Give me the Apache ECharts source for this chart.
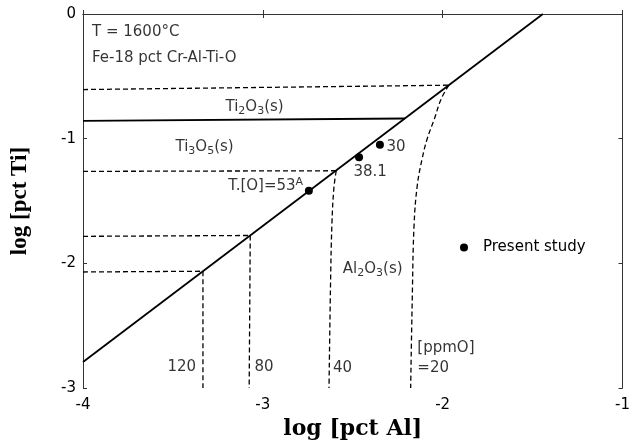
<!DOCTYPE html>
<html>
<head>
<meta charset="utf-8">
<script src="https://cdn.jsdelivr.net/npm/echarts@6/dist/echarts.min.js"></script>
<style>
  html, body { margin: 0; padding: 0; background: #fff; }
  #main { width: 633px; height: 445px; }
</style>
</head>
<body>
<div id="main"></div>
<script>
// axis ticks
var xTicks = [-4, -3, -2, -1]
var yTicks = [-3, -2, -1, 0]

// Al2O3 / Ti3O5 boundary and Ti3O5 / Ti2O3 boundary
var alBoundary = [[-4, -2.79], [-1.443, 0]]
var ti2o3Boundary = [[-4, -0.857], [-2.211, -0.838]]

// iso-oxygen lines [ppmO]
var iso20 = [[-1.966, -0.571], [-2.009, -0.683], [-2.046, -0.841], [-2.086, -1.0], [-2.114, -1.159], [-2.141, -1.371], [-2.159, -1.688], [-2.169, -2.27], [-2.178, -3]]
var iso40 = [[-2.592, -1.257], [-2.605, -1.397], [-2.616, -1.688], [-2.624, -2.2], [-2.632, -3]]
var iso80 = [[-3.07, -1.776], [-3.076, -3]]
var iso120 = [[-3.333, -2.063], [-3.333, -3]]

// horizontal guides
var guide20 = [[-4, -0.606], [-1.966, -0.571]]
var guide40 = [[-4, -1.262], [-2.592, -1.257]]
var guide80 = [[-4, -1.783], [-3.07, -1.776]]
var guide120 = [[-4, -2.069], [-3.333, -2.063]]

// present study points
var studyPoints = [[-2.744, -1.418], [-2.465, -1.148], [-2.349, -1.048]]

// annotations: x, y, text, side
var notes = [
  [-3.95, -0.143, 'T = 1600°C', 'right'],
  [-3.95, -0.357, 'Fe-18 pct Cr-Al-Ti-O', 'right'],
  [-3.046, -0.746, 'Ti{sub|2}O{sub|3}(s)', 'inside'],
  [-3.324, -1.066, 'Ti{sub|3}O{sub|5}(s)', 'inside'],
  [-2.776, -1.381, 'T.[O]=53{sup|A}', 'left'],
  [-2.312, -1.066, '30', 'right'],
  [-2.403, -1.264, '38.1', 'inside'],
  [-2.389, -2.045, 'Al{sub|2}O{sub|3}(s)', 'inside'],
  [-3.371, -2.833, '120', 'left'],
  [-3.046, -2.833, '80', 'right'],
  [-2.61, -2.839, '40', 'right'],
  [-2.141, -2.68, '[ppmO]', 'right'],
  [-2.141, -2.839, '=20', 'right']
]

var sans = 'DejaVu Sans'
var richStyle = {
  sub: { fontSize: 11, fontFamily: sans, color: '#000', lineHeight: 20, verticalAlign: 'bottom' },
  sup: { fontSize: 11, fontFamily: sans, color: '#000', lineHeight: 20, verticalAlign: 'top' }
}

function lineSeries(data, solid) {
  return {
    type: 'line',
    data: data,
    symbol: 'none',
    smooth: data.length > 2 ? 0.4 : false,
    silent: true,
    lineStyle: {
      color: '#000',
      width: solid ? 1.8 : 1.3,
      type: solid ? 'solid' : [5, 3]
    }
  }
}

function axisCommon(extra) {
  return Object.assign({
    type: 'value',
    interval: 1,
    axisLine: { show: true, lineStyle: { color: '#333', width: 1 } },
    axisTick: { show: true, inside: true, length: 4, lineStyle: { color: '#333' } },
    splitLine: { show: false }
  }, extra)
}

var chart = echarts.init(document.getElementById('main'))

var series = [
  lineSeries(alBoundary, true),
  lineSeries(ti2o3Boundary, true),
  lineSeries(iso20, false),
  lineSeries(iso40, false),
  lineSeries(iso80, false),
  lineSeries(iso120, false),
  lineSeries(guide20, false),
  lineSeries(guide40, false),
  lineSeries(guide80, false),
  lineSeries(guide120, false),
  {
    name: 'Present study',
    type: 'scatter',
    data: studyPoints,
    symbol: 'circle',
    symbolSize: 8,
    itemStyle: { color: '#000', opacity: 1 },
    z: 5
  },
  {
    type: 'scatter',
    symbolSize: 0,
    silent: true,
    data: notes.map(function (n) {
      return {
        value: [n[0], n[1]],
        label: {
          show: true,
          position: n[3],
          distance: 0,
          formatter: n[2],
          color: '#000',
          fontSize: 15,
          fontFamily: sans,
          lineHeight: 20,
          rich: richStyle
        }
      }
    })
  }
]

chart.setOption({
  animation: false,
  backgroundColor: '#fff',
  grid: { left: 83, right: 6, top: 14, bottom: 53 },
  legend: {
    data: [{ name: 'Present study', icon: 'circle', itemStyle: { opacity: 1, color: '#000' } }],
    left: 460,
    top: 240,
    padding: 0,
    itemWidth: 8,
    itemHeight: 8,
    textStyle: { color: '#000', fontSize: 15, fontFamily: sans, padding: [0, 0, 0, 10] }
  },
  xAxis: [
    axisCommon({
      min: xTicks[0], max: xTicks[xTicks.length - 1],
      name: 'log [pct Al]',
      nameLocation: 'middle',
      nameGap: 28,
      nameTextStyle: { fontFamily: 'DejaVu Serif', fontWeight: 'bold', fontSize: 22, color: '#000' },
      axisLabel: { color: '#000', fontSize: 15, fontFamily: sans, margin: 10 }
    }),
    axisCommon({
      position: 'top',
      min: xTicks[0], max: xTicks[xTicks.length - 1],
      axisLabel: { show: false }
    })
  ],
  yAxis: [
    axisCommon({
      min: yTicks[0], max: yTicks[yTicks.length - 1],
      name: 'log [pct Ti]',
      nameLocation: 'middle',
      nameRotate: 90,
      nameGap: 51,
      nameTextStyle: { fontFamily: 'Liberation Serif', fontWeight: 'bold', fontSize: 23, color: '#000' },
      axisLabel: { color: '#000', fontSize: 15, fontFamily: sans, margin: 7 }
    }),
    axisCommon({
      position: 'right',
      min: yTicks[0], max: yTicks[yTicks.length - 1],
      axisLabel: { show: false }
    })
  ],
  series: series
})
</script>
</body>
</html>
